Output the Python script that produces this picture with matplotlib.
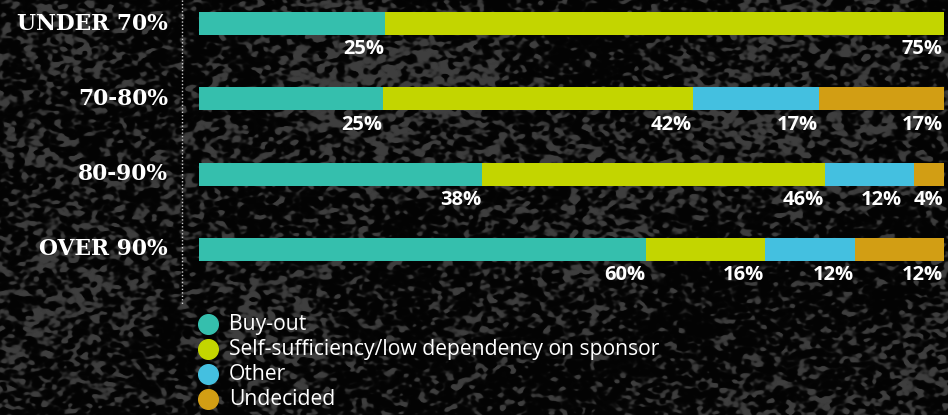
import numpy as np
import matplotlib.pyplot as plt
from matplotlib import transforms

# pension scheme funding level vs. long-term target
categories = ["UNDER 70%", "70-80%", "80-90%", "OVER 90%"]
series = ["Buy-out", "Self-sufficiency/low dependency on sponsor", "Other", "Undecided"]
buy_out = [25, 25, 38, 60]
self_suff = [75, 42, 46, 16]
other = [0, 17, 12, 12]
undecided = [0, 17, 4, 12]
colors = ["#35bfad", "#c3d500", "#44c0e0", "#d29e14"]

W, H, DPI = 948, 415, 100


def blur(img, sx, sy):
    # gaussian blur in the frequency domain
    h, w = img.shape
    fy = np.fft.fftfreq(h)[:, None]
    fx = np.fft.fftfreq(w)[None, :]
    g = np.exp(-2 * np.pi ** 2 * ((fx * sx) ** 2 + (fy * sy) ** 2))
    return np.real(np.fft.ifft2(np.fft.fft2(img) * g))


def stone_texture():
    rng = np.random.default_rng(7)
    fine = blur(rng.standard_normal((H, W)), 2.2, 1.6)
    fine /= fine.std()
    coarse = blur(rng.standard_normal((H, W)), 45, 35)
    coarse /= coarse.std()
    m = fine + 0.35 * coarse
    tex = 1 / (1 + np.exp(-(m - 0.7) * 4))
    return 0.015 + 0.23 * tex


fig = plt.figure(figsize=(W / DPI, H / DPI), dpi=DPI, facecolor="black")
fig.figimage(stone_texture(), cmap="gray", vmin=0, vmax=1, origin="upper", zorder=-5)

left, right = 199, 944
row0, step = 23.5, 75.33
ax = fig.add_axes([left / W, 0, (right - left) / W, 1], zorder=2)
ax.patch.set_visible(False)
ax.set_xlim(0, 100)
ax.set_ylim((H - row0) / step, -row0 / step)
ax.axis("off")

data = np.array([buy_out, self_suff, other, undecided], dtype=float)
totals = data.sum(axis=0)
y = np.arange(len(categories))
bar_h = 23 / step

# labels sit under the right end of each segment; nudge left when the
# following segment is too narrow to leave room
near = transforms.offset_copy(ax.transData, fig=fig, x=-1, y=0, units="dots")
nudged = transforms.offset_copy(ax.transData, fig=fig, x=-12, y=0, units="dots")
start = np.zeros(len(categories))
for k, (vals, col) in enumerate(zip(data, colors)):
    widths = vals / totals * 100
    ax.barh(y, widths, left=start, height=bar_h, color=col, edgecolor="none")
    ends = start + widths
    for j, (yi, v, e) in enumerate(zip(y, vals, ends)):
        if v <= 0:
            continue
        nxt = data[k + 1:, j]
        tight = len(nxt) and 0 < nxt[nxt > 0][:1].sum() < 6
        ax.text(e, yi + 26 / step, f"{v:.0f}%", ha="right", va="center",
                color="white", fontsize=14.5, fontweight="bold",
                family="Open Sans", transform=nudged if tight else near)
    start = ends

px = 100 / (right - left)
for yi, cat in zip(y, categories):
    ax.text((168 - left) * px, yi, cat, ha="right", va="center", color="white",
            fontsize=15.7, fontweight="bold", family="DejaVu Serif", clip_on=False)

# dotted divider between row labels and bars
ax.plot([(182 - left) * px] * 2, [-row0 / step, (305 - row0) / step],
        color="white", lw=1, ls=(0, (1, 1.5)), clip_on=False, alpha=0.8)

# legend
for i, (name, col) in enumerate(zip(series, colors)):
    ly = (324 + 25 * i - row0) / step
    ax.scatter([(208 - left) * px], [ly], s=200, color=col, clip_on=False, zorder=3)
    ax.text((229 - left) * px, ly, name, ha="left", va="center", color="white",
            fontsize=15.2, family="Open Sans", clip_on=False)

fig.savefig("out.png", dpi=DPI, facecolor="black")
